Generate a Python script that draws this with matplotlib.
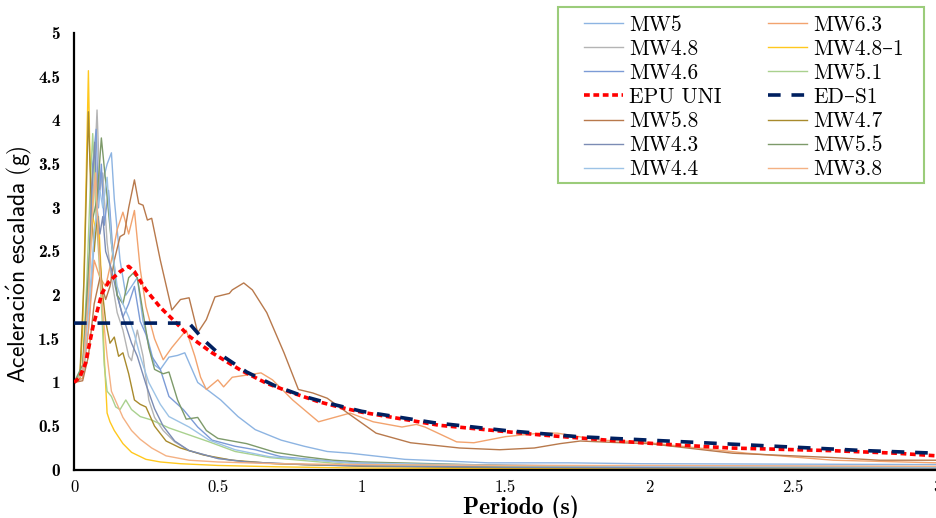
import matplotlib
matplotlib.use("Agg")
import matplotlib.pyplot as plt
from matplotlib.patches import Rectangle

# Espectros escalados (periodo en s, aceleracion en g)
T_mw5 = [0, 0.03, 0.05, 0.07, 0.09, 0.1, 0.115, 0.13, 0.14, 0.16, 0.18, 0.2, 0.22, 0.24, 0.26, 0.28, 0.3,
         0.33, 0.36, 0.385, 0.43, 0.51, 0.57, 0.63, 0.72, 0.8, 0.88, 0.96, 1.15, 1.44, 1.72, 1.97, 2.5, 3.0]
Sa_mw5 = [1.0, 1.05, 1.6, 2.6, 3.4, 3.3, 3.5, 3.63, 3.1, 2.4, 2.0, 2.1, 2.2, 1.7, 1.45, 1.2, 1.15,
          1.29, 1.31, 1.34, 1.0, 0.80, 0.61, 0.46, 0.34, 0.27, 0.21, 0.19, 0.12, 0.08, 0.08, 0.07, 0.065, 0.06]

T_mw63 = [0, 0.03, 0.05, 0.07, 0.09, 0.11, 0.13, 0.15, 0.17, 0.19, 0.21, 0.23, 0.25, 0.28, 0.31, 0.34, 0.37,
          0.39, 0.42, 0.44, 0.46, 0.5, 0.52, 0.55, 0.65, 0.69, 0.76, 0.85, 0.96, 1.04, 1.14, 1.19, 1.22, 1.33,
          1.39, 1.5, 1.62, 1.68, 1.83, 1.97, 2.17, 2.34, 2.64, 3.0]
Sa_mw63 = [1.0, 1.05, 1.6, 2.4, 2.2, 2.1, 2.4, 2.75, 2.95, 2.7, 2.97, 2.3, 1.87, 1.5, 1.26, 1.4, 1.52,
           1.60, 1.3, 1.06, 0.92, 1.03, 0.95, 1.06, 1.11, 1.03, 0.80, 0.55, 0.65, 0.55, 0.49, 0.52, 0.49, 0.32,
           0.31, 0.38, 0.42, 0.42, 0.34, 0.32, 0.25, 0.19, 0.11, 0.08]

T_mw48 = [0, 0.03, 0.05, 0.065, 0.08, 0.09, 0.1, 0.115, 0.13, 0.15, 0.17, 0.19, 0.2, 0.22, 0.24, 0.26, 0.28,
          0.31, 0.35, 0.4, 0.5, 0.6, 0.8, 1.0, 1.5, 2.0, 3.0]
Sa_mw48 = [1.0, 1.1, 2.0, 3.0, 4.12, 3.2, 3.4, 2.6, 2.2, 1.8, 1.6, 1.3, 1.25, 1.6, 1.3, 0.8, 0.6,
           0.45, 0.32, 0.22, 0.13, 0.09, 0.06, 0.05, 0.03, 0.025, 0.02]

T_mw48_1 = [0, 0.02, 0.03, 0.04, 0.05, 0.055, 0.065, 0.075, 0.085, 0.095, 0.105, 0.115, 0.125, 0.14, 0.17,
            0.2, 0.25, 0.3, 0.37, 0.5, 0.7, 1.0, 1.5, 2.0, 3.0]
Sa_mw48_1 = [1.0, 1.05, 1.6, 3.0, 4.57, 3.6, 2.9, 2.75, 2.9, 2.2, 1.3, 0.65, 0.55, 0.45, 0.30,
             0.2, 0.12, 0.09, 0.07, 0.05, 0.035, 0.02, 0.015, 0.01, 0.005]

T_mw46 = [0, 0.03, 0.05, 0.065, 0.077, 0.085, 0.095, 0.105, 0.12, 0.135, 0.15, 0.17, 0.19, 0.21, 0.23, 0.25,
          0.27, 0.3, 0.33, 0.38, 0.43, 0.48, 0.56, 0.63, 0.72, 0.96, 1.2, 1.6, 2.0, 2.5, 3.0]
Sa_mw46 = [1.0, 1.15, 2.2, 3.5, 3.9, 3.0, 3.5, 2.8, 3.2, 2.5, 2.0, 1.75, 1.9, 2.1, 1.7, 1.55,
           1.3, 1.15, 0.84, 0.69, 0.49, 0.34, 0.27, 0.23, 0.15, 0.08, 0.06, 0.05, 0.045, 0.04, 0.035]

T_mw51 = [0, 0.03, 0.045, 0.057, 0.065, 0.075, 0.085, 0.095, 0.105, 0.115, 0.13, 0.145, 0.16, 0.18, 0.2,
          0.23, 0.27, 0.33, 0.4, 0.47, 0.56, 0.68, 0.96, 1.5, 2.0, 3.0]
Sa_mw51 = [1.0, 1.15, 2.2, 3.3, 3.85, 3.0, 2.5, 1.9, 1.2, 0.9, 0.84, 0.72, 0.69, 0.8, 0.69,
           0.61, 0.57, 0.48, 0.40, 0.32, 0.21, 0.14, 0.06, 0.035, 0.03, 0.02]

T_epu = [0, 0.02, 0.04, 0.066, 0.097, 0.12, 0.16, 0.19, 0.21, 0.25, 0.30, 0.35, 0.40, 0.48, 0.58, 0.67,
         0.76, 0.85, 0.92, 1.0, 1.27, 1.62, 1.97, 2.28, 2.63, 2.86, 3.0]
Sa_epu = [1.0, 1.06, 1.22, 1.64, 2.02, 2.15, 2.27, 2.33, 2.27, 2.06, 1.86, 1.70, 1.53, 1.34, 1.14, 0.99,
          0.88, 0.78, 0.72, 0.66, 0.51, 0.40, 0.31, 0.25, 0.22, 0.19, 0.16]

T_eds1 = [0, 0.4, 0.45, 0.5, 0.6, 0.7, 0.8, 0.9, 1.0, 1.25, 1.5, 1.75, 2.0, 2.25, 2.5, 2.75, 3.0]
Sa_eds1 = [1.68, 1.68, 1.49, 1.34, 1.12, 0.96, 0.84, 0.75, 0.67, 0.54, 0.45, 0.38, 0.34, 0.30, 0.26, 0.22, 0.19]

T_mw58 = [0, 0.03, 0.05, 0.07, 0.09, 0.11, 0.125, 0.14, 0.16, 0.175, 0.19, 0.21, 0.225, 0.24, 0.255, 0.27,
          0.3, 0.34, 0.37, 0.4, 0.43, 0.46, 0.49, 0.54, 0.55, 0.59, 0.62, 0.67, 0.73, 0.78, 0.83, 0.88, 0.96,
          1.05, 1.17, 1.34, 1.48, 1.6, 1.69, 1.76, 1.9, 2.0, 2.29, 2.64, 2.8, 3.0]
Sa_mw58 = [1.0, 1.02, 1.3, 1.9, 2.2, 1.95, 2.1, 2.4, 2.67, 2.7, 3.0, 3.32, 3.05, 3.03, 2.86, 2.88,
           2.4, 1.83, 1.95, 1.97, 1.57, 1.72, 1.98, 2.02, 2.06, 2.14, 2.06, 1.80, 1.34, 0.92, 0.88, 0.82, 0.63,
           0.42, 0.31, 0.25, 0.23, 0.25, 0.30, 0.33, 0.31, 0.30, 0.19, 0.14, 0.11, 0.11]

T_mw47 = [0, 0.02, 0.035, 0.05, 0.06, 0.07, 0.08, 0.09, 0.1, 0.11, 0.125, 0.14, 0.155, 0.17, 0.19, 0.21,
          0.23, 0.25, 0.28, 0.32, 0.37, 0.45, 0.55, 0.7, 1.0, 1.5, 2.0, 3.0]
Sa_mw47 = [1.0, 1.05, 2.2, 4.1, 3.0, 2.5, 2.9, 2.4, 2.0, 1.7, 1.45, 1.52, 1.3, 1.34, 1.1, 0.8,
           0.75, 0.72, 0.5, 0.33, 0.25, 0.17, 0.11, 0.07, 0.04, 0.025, 0.02, 0.015]

T_mw43 = [0, 0.03, 0.05, 0.062, 0.072, 0.08, 0.09, 0.1, 0.11, 0.13, 0.15, 0.17, 0.2, 0.22, 0.25, 0.28,
          0.31, 0.35, 0.4, 0.5, 0.6, 0.8, 1.0, 1.5, 2.0, 3.0]
Sa_mw43 = [1.0, 1.1, 2.0, 3.2, 3.75, 3.0, 2.7, 2.9, 2.5, 2.3, 2.0, 1.75, 1.45, 1.3, 0.98, 0.7,
           0.5, 0.33, 0.22, 0.13, 0.09, 0.06, 0.045, 0.03, 0.025, 0.02]

T_mw55 = [0, 0.03, 0.06, 0.08, 0.095, 0.11, 0.13, 0.15, 0.17, 0.19, 0.205, 0.22, 0.24, 0.26, 0.28, 0.31,
          0.33, 0.36, 0.39, 0.43, 0.46, 0.5, 0.55, 0.6, 0.7, 0.8, 0.9, 1.0, 1.5, 2.0, 3.0]
Sa_mw55 = [1.0, 1.2, 2.8, 3.1, 3.8, 3.3, 2.6, 2.0, 1.9, 2.2, 2.25, 2.2, 1.8, 1.4, 1.15, 1.1,
           1.12, 0.8, 0.58, 0.6, 0.45, 0.36, 0.33, 0.3, 0.2, 0.15, 0.11, 0.09, 0.05, 0.04, 0.03]

T_mw44 = [0, 0.03, 0.05, 0.07, 0.09, 0.1, 0.115, 0.13, 0.15, 0.17, 0.19, 0.21, 0.23, 0.26, 0.3, 0.33,
          0.4, 0.47, 0.56, 0.68, 0.96, 1.5, 2.0, 3.0]
Sa_mw44 = [1.0, 1.1, 1.8, 2.7, 3.2, 3.0, 3.35, 2.6, 2.1, 1.9, 1.75, 1.55, 1.3, 1.0, 0.75, 0.61,
           0.49, 0.34, 0.23, 0.15, 0.08, 0.05, 0.04, 0.03]

T_mw38 = [0, 0.03, 0.05, 0.065, 0.075, 0.085, 0.1, 0.115, 0.13, 0.15, 0.17, 0.2, 0.23, 0.27, 0.32, 0.4,
          0.5, 0.7, 1.0, 1.5, 2.0, 3.0]
Sa_mw38 = [1.0, 1.1, 2.0, 3.0, 3.4, 2.6, 1.8, 1.3, 0.9, 0.75, 0.6, 0.45, 0.35, 0.25, 0.16, 0.11,
           0.09, 0.07, 0.06, 0.05, 0.05, 0.04]

plt.rcParams['font.family'] = ['cmr10', 'DejaVu Serif']
plt.rcParams['mathtext.fontset'] = 'cm'
plt.rcParams['axes.unicode_minus'] = False

fig = plt.figure(figsize=(9.37, 5.18), dpi=100)
ax = fig.add_axes([0.079, 0.093, 0.921, 0.843])

thin = 1.0
h = {}
h['MW5'], = ax.plot(T_mw5, Sa_mw5, color='#8db4e2', lw=thin)
h['MW6.3'], = ax.plot(T_mw63, Sa_mw63, color='#f2a36e', lw=thin)
h['MW4.8'], = ax.plot(T_mw48, Sa_mw48, color='#b4b4b4', lw=thin)
h['MW4.8\u20131'], = ax.plot(T_mw48_1, Sa_mw48_1, color='#ffc81e', lw=thin)
h['MW4.6'], = ax.plot(T_mw46, Sa_mw46, color='#7c9bd6', lw=thin)
h['MW5.1'], = ax.plot(T_mw51, Sa_mw51, color='#a9d18e', lw=thin)
h['MW5.8'], = ax.plot(T_mw58, Sa_mw58, color='#b8794c', lw=thin)
h['MW4.7'], = ax.plot(T_mw47, Sa_mw47, color='#a88a2c', lw=thin)
h['MW4.3'], = ax.plot(T_mw43, Sa_mw43, color='#7b8cb4', lw=thin)
h['MW5.5'], = ax.plot(T_mw55, Sa_mw55, color='#7d9a6a', lw=thin)
h['MW4.4'], = ax.plot(T_mw44, Sa_mw44, color='#9dc3e6', lw=thin)
h['MW3.8'], = ax.plot(T_mw38, Sa_mw38, color='#f4b183', lw=thin)
h['EPU UNI'], = ax.plot(T_epu, Sa_epu, color='#ff0000', lw=2.6, ls=(0, (1.6, 1.0)), zorder=5)
h['ED\u2013S1'], = ax.plot(T_eds1, Sa_eds1, color='#002060', lw=2.6, ls=(0, (3.5, 3.0)), zorder=6)

ax.set_xlim(0, 3)
ax.set_ylim(0, 5)
ax.set_xticks([0, 0.5, 1, 1.5, 2, 2.5, 3])
ax.set_xticklabels(['0', '0.5', '1', '1.5', '2', '2.5', '3'], fontsize=12)
ax.set_yticks([0, 0.5, 1, 1.5, 2, 2.5, 3, 3.5, 4, 4.5, 5])
ax.set_yticklabels(['0', '0.5', '1', '1.5', '2', '2.5', '3', '3.5', '4', '4.5', '5'],
                   fontsize=12.5, family=['cmb10', 'DejaVu Serif'])
ax.tick_params(length=0)
ax.tick_params(axis='y', pad=10)
ax.tick_params(axis='x', pad=7)
for s in ['top', 'right']:
    ax.spines[s].set_visible(False)
for s in ['left', 'bottom']:
    ax.spines[s].set_linewidth(1.6)
    ax.spines[s].set_color('black')

ax.set_xlabel('Periodo (s)', fontsize=17, family=['cmb10', 'DejaVu Serif'])
ax.xaxis.set_label_coords(0.518, -0.059)
ax.set_ylabel(r'$\mathsf{Aceleraci\acute{o}n\ escalada\ (g)}$', fontsize=17)
ax.yaxis.set_label_coords(-0.046, 0.47)

# orden de la leyenda como en Excel (por filas)
col1 = ['MW5', 'MW4.8', 'MW4.6', 'EPU UNI', 'MW5.8', 'MW4.3', 'MW4.4']
col2 = ['MW6.3', 'MW4.8\u20131', 'MW5.1', 'ED\u2013S1', 'MW4.7', 'MW5.5', 'MW3.8']
names = col1 + col2
leg = fig.legend([h[n] for n in names], names, ncol=2, loc='upper left',
                 bbox_to_anchor=(584 / 937, 1 - 15 / 518), fontsize=15.5,
                 frameon=False, handlelength=1.8, handletextpad=0.3,
                 columnspacing=2.15, labelspacing=0.215, borderpad=0, borderaxespad=0)
fig.patches.append(Rectangle((558 / 937, 1 - 183 / 518), 366 / 937, 176 / 518,
                             transform=fig.transFigure, fill=False,
                             edgecolor='#9bcc7a', linewidth=1.5))

fig.savefig('out.png', dpi=100)
